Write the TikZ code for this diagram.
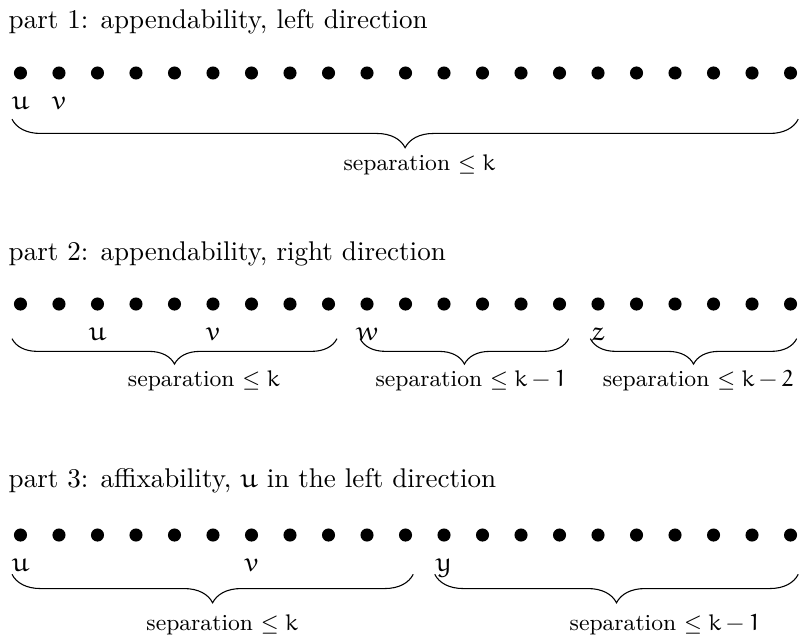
\documentclass[tikz,border=0pt]{standalone}
\usepackage{amsmath}
\usepackage{euler}
\usepackage{tikz}
\usetikzlibrary{positioning,decorations.pathreplacing}

\begin{document}
\begin{tikzpicture}[
  dot/.style={circle, fill=black, inner sep=0pt, minimum size=0.17cm},
  lbl/.style={inner sep=0pt, text height=1ex, text depth=0.25ex},
  title/.style={anchor=west, inner sep=0pt},
  seplbl/.style={inner sep=0pt, font=\fontsize{8.5pt}{10pt}\selectfont},
  brc/.style={decorate, decoration={brace, amplitude=0.37cm}, thin}
]
\useasboundingbox (-0.266,0.948) rectangle (10.11,-7.325);

\foreach \i in {0,...,20} {
  \node[dot] (a\i) at (\i*0.5,0) {};
  \node[dot] (b\i) at (\i*0.5,-3) {};
  \node[dot] (c\i) at (\i*0.5,-6) {};
}

\node[title] (t1) at (-0.16,0.66) {part 1: appendability, left direction};
\node[lbl, below=0.22cm of a0] (u1) {$u$};
\node[lbl, below=0.22cm of a1] (v1) {$v$};
\draw[brc] ([xshift=0.1cm,yshift=-0.6cm]a20.center) -- ([xshift=-0.11cm,yshift=-0.6cm]a0.center);
\node[seplbl] (s1) at (5.18,-1.19) {separation $\leq k$};

\node[title] (t2) at (-0.16,-2.35) {part 2: appendability, right direction};
\node[lbl, below=0.22cm of b2] (u2) {$u$};
\node[lbl, below=0.22cm of b5] (v2) {$v$};
\node[lbl, below=0.22cm of b9] (w2) {$w$};
\node[lbl, below=0.22cm of b15] (z2) {$z$};
\draw[brc, decoration={amplitude=0.33cm}] ([xshift=0.11cm,yshift=-0.45cm]b8.center) -- ([xshift=-0.11cm,yshift=-0.45cm]b0.center);
\draw[brc, decoration={amplitude=0.33cm}] ([xshift=0.12cm,yshift=-0.45cm]b14.center) -- ([xshift=-0.09cm,yshift=-0.45cm]b9.center);
\draw[brc, decoration={amplitude=0.33cm}] ([xshift=0.08cm,yshift=-0.45cm]b20.center) -- ([xshift=-0.1cm,yshift=-0.45cm]b15.center);
\node[seplbl] (s2a) at (2.38,-4.0) {separation $\leq k$};
\node[seplbl] (s2b) at (5.85,-4.0) {separation $\leq k-1$};
\node[seplbl] (s2c) at (8.8,-4.0) {separation $\leq k-2$};

\node[title] (t3) at (-0.16,-5.3) {part 3: affixability, $u$ in the left direction};
\node[lbl, below=0.22cm of c0] (u3) {$u$};
\node[lbl, below=0.22cm of c6] (v3) {$v$};
\node[lbl, below=0.22cm of c11] (y3) {$y$};
\draw[brc] ([xshift=0.1cm,yshift=-0.51cm]c10.center) -- ([xshift=-0.11cm,yshift=-0.51cm]c0.center);
\draw[brc] ([xshift=0.1cm,yshift=-0.51cm]c20.center) -- ([xshift=-0.12cm,yshift=-0.51cm]c11.center);
\node[seplbl] (s3a) at (2.62,-7.16) {separation $\leq k$};
\node[seplbl] (s3b) at (8.37,-7.16) {separation $\leq k-1$};
\end{tikzpicture}
\end{document}
